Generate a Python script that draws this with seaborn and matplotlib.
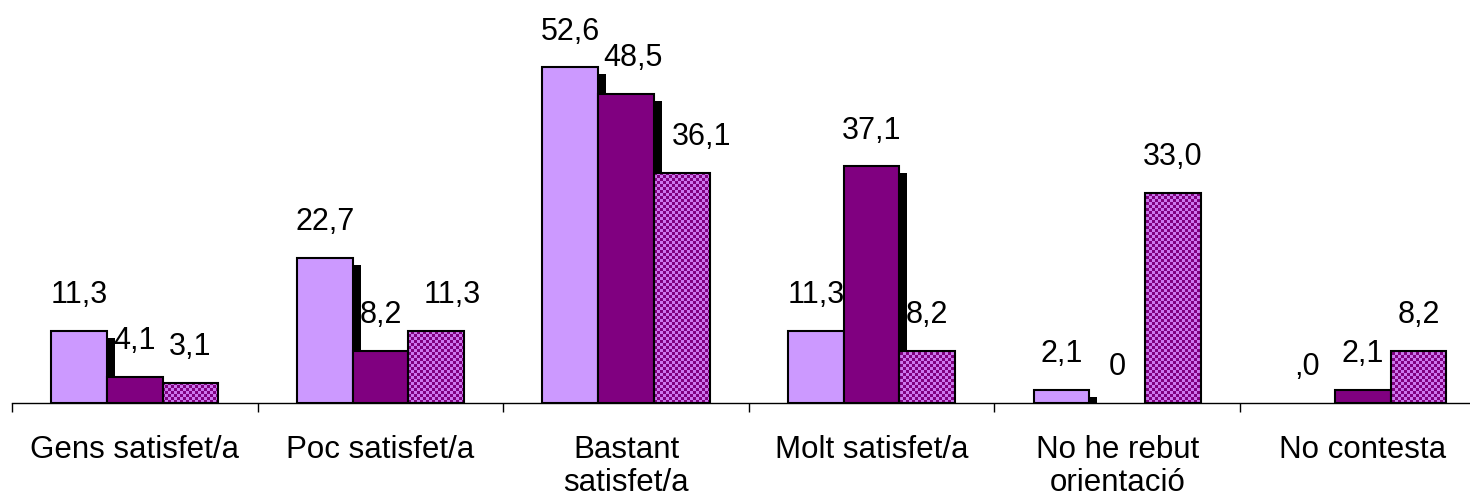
import numpy as np
import pandas as pd
import matplotlib
matplotlib.use("Agg")
import matplotlib.pyplot as plt
import matplotlib.transforms as mtransforms
from matplotlib.patches import Rectangle
from matplotlib.path import Path
from matplotlib.colors import ListedColormap
import seaborn as sns

# ---------------- data ----------------
categories = ["Gens satisfet/a", "Poc satisfet/a", "Bastant\nsatisfet/a",
              "Molt satisfet/a", "No he rebut\norientació", "No contesta"]
series_names = ["Sèrie 1", "Sèrie 2", "Sèrie 3"]
series1 = [11.3, 22.7, 52.6, 11.3, 2.1, 0.0]
series2 = [4.1, 8.2, 48.5, 37.1, 0.0, 2.1]
series3 = [3.1, 11.3, 36.1, 8.2, 33.0, 8.2]
labels1 = ["11,3", "22,7", "52,6", "11,3", "2,1", ",0"]
labels2 = ["4,1", "8,2", "48,5", "37,1", "0", "2,1"]
labels3 = ["3,1", "11,3", "36,1", "8,2", "33,0", "8,2"]

# small horizontal nudges (points) of some value labels, as in the original
label_nudge = {(1, 2): 5, (2, 1): 12, (2, 2): 14}

light = "#CC99FF"
dark = "#800080"
check_light = "#CC77EE"

rows = []
for name, vals in zip(series_names, [series1, series2, series3]):
    for c, v in zip(categories, vals):
        rows.append({"cat": c, "val": v, "series": name})
df = pd.DataFrame(rows)

sns.set_style("white")
plt.rcParams["font.family"] = ["Liberation Sans", "DejaVu Sans"]

fig = plt.figure(figsize=(14.7, 5.01), dpi=100)
ax = fig.add_axes([12 / 1470, 98 / 501, 1473.6 / 1470, 382.7 / 501])

sns.barplot(data=df, x="cat", y="val", hue="series", order=categories,
            hue_order=series_names, palette=[light, dark, dark],
            width=0.68, gap=0, saturation=1, edgecolor="black",
            linewidth=1.5, legend=False, ax=ax, errorbar=None)

ax.set_xlim(-0.5, len(categories) - 0.5)
ax.set_ylim(0, 60)

containers = ax.containers
shadow_tr = mtransforms.offset_copy(ax.transData, fig=fig, x=8, y=-7, units="dots")

for ci, cont in enumerate(containers):
    for bar in cont:
        bar.set_zorder(1)
        if bar.get_height() == 0:
            bar.set_visible(False)
            continue
        if ci < 2:
            sh = Rectangle(bar.get_xy(), bar.get_width(), bar.get_height(),
                           transform=shadow_tr, facecolor="black",
                           edgecolor="none", zorder=0.8)
            ax.add_patch(sh)

# checker texture for third series
W = int(round(fig.dpi * fig.get_figwidth() * ax.get_position().width))
H = int(round(fig.dpi * fig.get_figheight() * ax.get_position().height))
yy, xx = np.mgrid[0:H, 0:W]
checker = ((xx // 3 + yy // 3) % 2).astype(float)
x0, x1 = ax.get_xlim()
y0, y1 = ax.get_ylim()
im = ax.imshow(checker, cmap=ListedColormap([dark, check_light]),
               extent=(x0, x1, y0, y1), origin="lower", aspect="auto",
               interpolation="nearest", zorder=0.9)
third = [b for b in containers[2] if b.get_height() > 0]
cpath = Path.make_compound_path(*[b.get_path().transformed(b.get_patch_transform())
                                  for b in third])
im.set_clip_path(cpath, ax.transData)
for b in containers[2]:
    b.set_facecolor("none")

ax.set_xlim(x0, x1)
ax.set_ylim(y0, y1)

# value labels
for si, (cont, labs) in enumerate(zip(containers, [labels1, labels2, labels3])):
    for gi, (bar, lab) in enumerate(zip(cont, labs)):
        dx = label_nudge.get((si, gi), 0)
        ax.annotate(lab, (bar.get_x() + bar.get_width() / 2, bar.get_height()),
                    xytext=(dx, 20), textcoords="offset points",
                    ha="center", va="baseline", fontsize=22, color="black")

# axes styling
for s in ["left", "right", "top"]:
    ax.spines[s].set_visible(False)
ax.spines["bottom"].set_color("black")
ax.spines["bottom"].set_linewidth(1.0)
ax.spines["bottom"].set_zorder(2.5)
ax.set_yticks([])
ax.set_xlabel("")
ax.set_ylabel("")
ax.set_xticks(range(len(categories)))
ax.set_xticklabels(categories, fontsize=22.5, linespacing=1.15, color="black")
ax.set_xticks(np.arange(-0.5, len(categories)), minor=True)
ax.tick_params(axis="x", which="major", length=0, pad=23)
ax.tick_params(axis="x", which="minor", length=6.5, width=1, color="black",
               direction="out", bottom=True)

fig.savefig("out.png", dpi=100)
